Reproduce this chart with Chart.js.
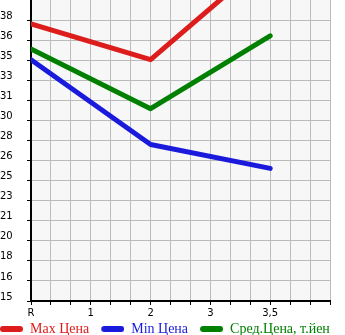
<!DOCTYPE html>
<html>
<head>
<meta charset="utf-8">
<script src="https://cdn.jsdelivr.net/npm/chart.js@4"></script>
<style>
  html, body { margin: 0; padding: 0; background: #fff; }
  #wrap { width: 345px; height: 335px; }
</style>
</head>
<body>
<div id="wrap"><canvas id="PriceChart"></canvas></div>
<script>
// categories on the x axis
var categories = ['R', '1', '2', '3', '3,5'];
// series values (null = no point for that category)
var maxPrice = [38.2, null, 35.2, null, 43.8];
var minPrice = [35.2, null, 28.1, null, 26.1];
var avgPrice = [36.1, null, 31.1, null, 37.2];
// y tick labels as printed on the chart
var yTickLabels = ['15', '16', '18', '20', '21', '23', '25', '26', '28', '30', '31', '33', '35', '36', '38'];
var yMin = 15;
var yStep = 1.68;

function toPoints(arr) {
    return arr.map(function (v, i) { return { x: i, y: v }; })
              .filter(function (p) { return p.y !== null; });
}

// legend swatch: rounded thick line sitting at the right end of a 34px box
function swatch(color) {
    var c = document.createElement('canvas');
    c.width = 34; c.height = 6;
    var g = c.getContext('2d');
    g.strokeStyle = color;
    g.lineWidth = 6;
    g.lineCap = 'round';
    g.beginPath(); g.moveTo(14, 3); g.lineTo(31, 3); g.stroke();
    return c;
}

Chart.defaults.font.family = 'DejaVu Sans';
Chart.defaults.font.size = 10;
Chart.defaults.color = '#000';

var plotBg = {
    id: 'plotBg',
    beforeDraw: function (chart) {
        var a = chart.chartArea, ctx = chart.ctx;
        ctx.save();
        ctx.fillStyle = '#f7f7f7';
        ctx.fillRect(a.left, a.top, a.right - a.left, a.bottom - a.top);
        ctx.restore();
    }
};

var ctx = document.getElementById('PriceChart').getContext('2d');
var PriceChart = new Chart(ctx, {
    type: 'line',
    data: {
        datasets: [{
            label: 'Max Цена',
            data: toPoints(maxPrice),
            borderColor: '#dd1c1c'
        }, {
            label: 'Min Цена',
            data: toPoints(minPrice),
            borderColor: '#1a1add'
        }, {
            label: 'Сред.Цена, т.йен',
            data: toPoints(avgPrice),
            borderColor: '#008000'
        }]
    },
    options: {
        responsive: true,
        maintainAspectRatio: false,
        animation: false,
        layout: { padding: { top: 0, left: -12, right: -20, bottom: -11 } },
        elements: {
            line: { borderWidth: 5, borderCapStyle: 'round', borderJoinStyle: 'round', tension: 0 },
            point: { radius: 0, hoverRadius: 0 }
        },
        scales: {
            x: {
                type: 'linear',
                min: 0,
                max: 5,
                afterBuildTicks: function (axis) {
                    var t = [];
                    for (var k = 0; k <= 15; k++) t.push({ value: k / 3 });
                    axis.ticks = t;
                },
                afterFit: function (axis) { axis.height = 20; },
                ticks: {
                    autoSkip: false,
                    maxRotation: 0,
                    padding: 2,
                    callback: function (v, i) {
                        return (i % 3 === 0 && categories[i / 3]) ? categories[i / 3] : '';
                    }
                },
                grid: { color: '#bbbbbb', tickColor: '#000', tickLength: 4 },
                border: { color: '#000', width: 2 }
            },
            y: {
                type: 'linear',
                min: yMin,
                max: yMin + 15 * yStep,
                afterBuildTicks: function (axis) {
                    axis.ticks = yTickLabels.map(function (l, k) { return { value: yMin + k * yStep }; });
                },
                afterFit: function (axis) { axis.width = 43; },
                ticks: {
                    mirror: true,
                    crossAlign: 'near',
                    padding: -31,
                    labelOffset: -4,
                    callback: function (v, i) { return yTickLabels[i]; }
                },
                grid: { color: '#bbbbbb', tickColor: '#000', tickLength: 4 },
                border: { color: '#000', width: 2 }
            },
            y2: {
                position: 'right',
                afterFit: function (axis) { axis.width = 35; },
                ticks: { display: false },
                grid: { display: false },
                border: { display: false }
            }
        },
        plugins: {
            tooltip: { enabled: false },
            legend: {
                position: 'bottom',
                align: 'start',
                labels: {
                    usePointStyle: true,
                    pointStyleWidth: 34,
                    padding: 1,
                    font: { family: 'Liberation Serif', size: 14 },
                    generateLabels: function (chart) {
                        return chart.data.datasets.map(function (ds, i) {
                            return {
                                text: ds.label,
                                fillStyle: ds.borderColor,
                                strokeStyle: ds.borderColor,
                                fontColor: ds.borderColor,
                                pointStyle: swatch(ds.borderColor),
                                lineWidth: 0,
                                hidden: false,
                                datasetIndex: i
                            };
                        });
                    }
                }
            }
        }
    },
    plugins: [plotBg]
});
</script>
</body>
</html>
